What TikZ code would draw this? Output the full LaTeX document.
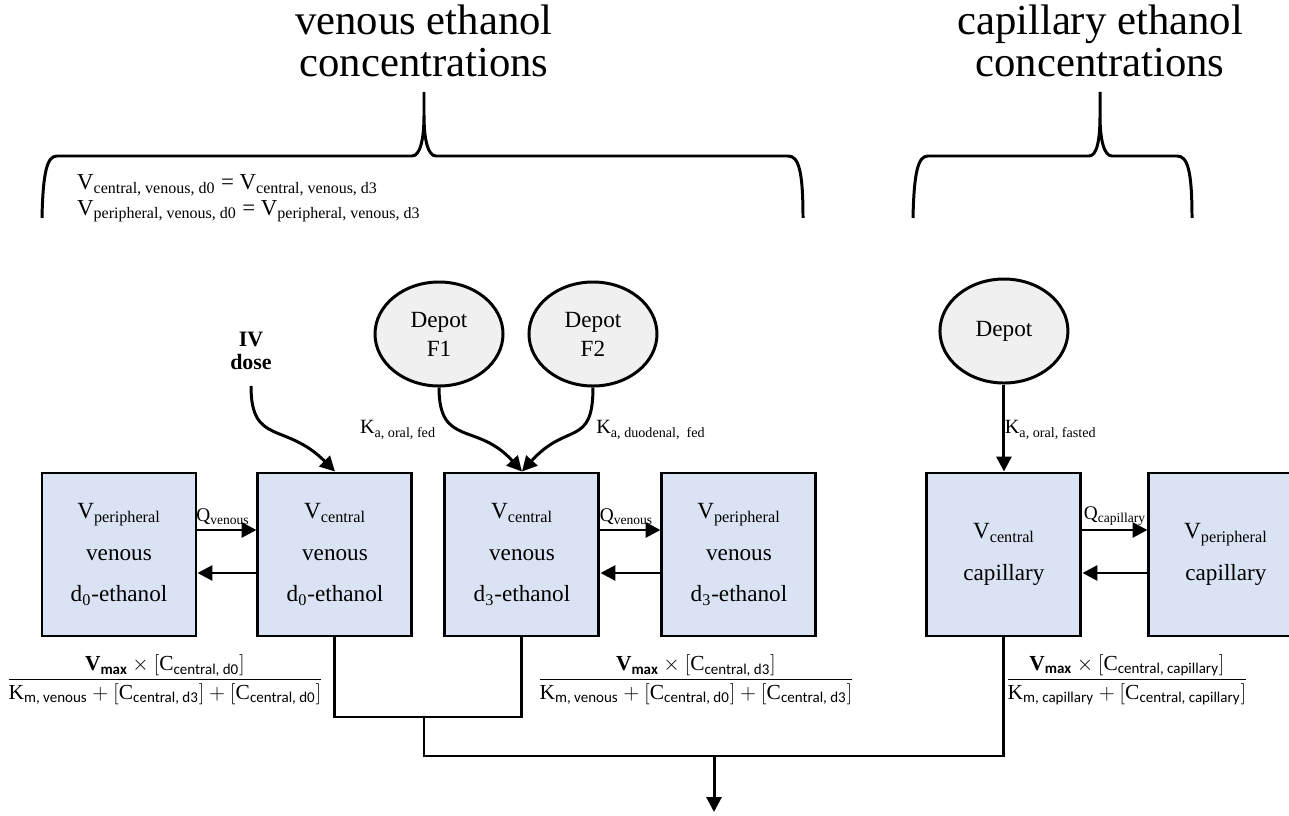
\documentclass[tikz,border=0pt]{standalone}
\usepackage{fontspec}
\usepackage{amsmath}
\setmainfont{Liberation Serif}
\newfontfamily\calf{Carlito}
\usetikzlibrary{positioning,shapes.geometric,arrows.meta}
\definecolor{compblue}{HTML}{DAE3F3}
\definecolor{depotgray}{HTML}{F0F0F0}
\newcommand{\csub}[1]{\textsubscript{\calf #1}}
\newcommand{\vmaxtxt}{\text{\bfseries V\textsubscript{\calf\bfseries max}}}
\newcommand{\conc}[1]{[\text{C\csub{#1}}]}
\newcommand{\kmtxt}[1]{\text{K\csub{m, #1}}}
\begin{document}
\begin{tikzpicture}[
  comp/.style={draw, line width=1.7pt, fill=compblue, minimum width=3.08cm, minimum height=3.26cm, align=center, inner sep=0pt, font=\fontsize{13.2}{23.5}\selectfont},
  depot/.style={draw, ellipse, line width=1.7pt, fill=depotgray, minimum width=2.56cm, minimum height=2.08cm, align=center, inner sep=0pt, font=\fontsize{13.2}{16.5}\selectfont},
  flow/.style={line width=1.7pt, -{Triangle[width=8.5pt,length=8.5pt]}},
  elim/.style={line width=1.7pt},
  curly/.style={line width=1.7pt},
  lbl/.style={font=\fontsize{11.5}{14}\selectfont, inner sep=2pt},
  qlbl/.style={font=\fontsize{11}{13}\selectfont, inner sep=2pt},
  headtxt/.style={font=\fontsize{24.3}{24}\selectfont, align=center},
  rate/.style={font=\fontsize{12.2}{14}\selectfont}
]
\useasboundingbox (0,0) rectangle (25.78,16.3);

% titles and braces
\node[headtxt] (hv) at (8.48,15.48) {venous ethanol\\concentrations};
\node[headtxt] (hc) at (22.0,15.48) {capillary ethanol\\concentrations};

\draw[curly] (0.84,11.94) .. controls (0.86,12.9) and (0.95,13.18) .. (1.14,13.18) -- (8.24,13.18)
  .. controls (8.40,13.18) and (8.48,13.5) .. (8.48,14.0) -- (8.48,14.46) -- (8.48,14.0)
  .. controls (8.48,13.5) and (8.56,13.18) .. (8.72,13.18) -- (15.76,13.18)
  .. controls (15.97,13.18) and (16.06,12.9) .. (16.06,11.94);
\draw[curly] (18.26,11.94) .. controls (18.28,12.9) and (18.37,13.18) .. (18.56,13.18) -- (21.78,13.18)
  .. controls (21.94,13.18) and (22.0,13.5) .. (22.0,14.0) -- (22.0,14.46) -- (22.0,14.0)
  .. controls (22.0,13.5) and (22.08,13.18) .. (22.24,13.18) -- (23.54,13.18)
  .. controls (23.75,13.18) and (23.84,12.9) .. (23.84,11.94);

\node[anchor=west, align=left, font=\fontsize{13}{14.5}\selectfont] (eqv) at (1.42,12.33)
  {V\textsubscript{central, venous, d0} = V\textsubscript{central, venous, d3}\\
   V\textsubscript{peripheral, venous, d0} = V\textsubscript{peripheral, venous, d3}};

% compartments
\node[comp] (pv0) at (2.38,5.21) {V\textsubscript{peripheral}\\venous\\d\textsubscript{0}-ethanol};
\node[comp, right=1.18cm of pv0] (cv0) {V\textsubscript{central}\\venous\\d\textsubscript{0}-ethanol};
\node[comp, right=0.60cm of cv0] (cv3) {V\textsubscript{central}\\venous\\d\textsubscript{3}-ethanol};
\node[comp, right=1.20cm of cv3] (pv3) {V\textsubscript{peripheral}\\venous\\d\textsubscript{3}-ethanol};
\node[comp, right=2.16cm of pv3] (cc) {V\textsubscript{central}\\capillary};
\node[comp, right=1.30cm of cc] (pc) {V\textsubscript{peripheral}\\capillary};

% dosing
\node[depot] (f1) at (8.78,9.62) {Depot\\F1};
\node[depot, right=0.46cm of f1] (f2) {Depot\\F2};
\node[depot, above=1.74cm of cc] (dc) {Depot};
\node[font=\fontsize{12.5}{13}\selectfont\bfseries, align=center] (iv) at (5.02,9.28) {IV\\dose};

\draw[flow] ([yshift=-0.2cm]iv.south) .. controls +(0,-1.2) and +(-1.0,1.0) .. (cv0.north);
\draw[flow] (f1.south) .. controls +(0,-1.2) and +(-0.9,1.0) .. (cv3.north);
\draw[flow] (f2.south) .. controls +(0,-1.2) and +(0.9,1.0) .. (cv3.north);
\draw[flow] (dc.south) -- (cc.north);

\node[lbl] (ka1) at (7.96,7.70) {K\textsubscript{a, oral, fed}};
\node[lbl] (ka2) at (13.02,7.70) {K\textsubscript{a, duodenal, \ fed}};
\node[lbl, anchor=west] (ka3) at (20.02,7.70) {K\textsubscript{a, oral, fasted}};

% distribution
\draw[flow] ([yshift=0.49cm]pv0.east) -- node[qlbl, above, xshift=-0.08cm] (q0) {Q\textsubscript{venous}} ([yshift=0.49cm]cv0.west);
\draw[flow] ([yshift=-0.37cm]cv0.west) -- ([yshift=-0.37cm]pv0.east);
\draw[flow] ([yshift=0.49cm]cv3.east) -- node[qlbl, above, xshift=-0.08cm] (q3) {Q\textsubscript{venous}} ([yshift=0.49cm]pv3.west);
\draw[flow] ([yshift=-0.37cm]pv3.west) -- ([yshift=-0.37cm]cv3.east);
\draw[flow] ([yshift=0.49cm]cc.east) -- node[qlbl, above] (qc) {Q\textsubscript{capillary}} ([yshift=0.49cm]pc.west);
\draw[flow] ([yshift=-0.37cm]pc.west) -- ([yshift=-0.37cm]cc.east);

% elimination
\coordinate (jv) at (8.48,1.96);
\coordinate (jc) at (14.28,1.18);
\coordinate (sink) at (14.28,0.06);
\draw[elim] (cv0.south) |- (jv) -| (cv3.south);
\draw[elim] (jv) |- (jc) -| (cc.south);
\draw[flow] (jc) -- (sink);

\node[rate] (r0) at (3.30,2.70) {$\dfrac{\vmaxtxt\times\conc{central, d0}}{\kmtxt{venous}+\conc{central, d3}+\conc{central, d0}}$};
\node[rate] (r3) at (13.92,2.70) {$\dfrac{\vmaxtxt\times\conc{central, d3}}{\kmtxt{venous}+\conc{central, d0}+\conc{central, d3}}$};
\node[rate] (rc) at (22.54,2.70) {$\dfrac{\vmaxtxt\times\conc{central, capillary}}{\kmtxt{capillary}+\conc{central, capillary}}$};
\end{tikzpicture}
\end{document}
